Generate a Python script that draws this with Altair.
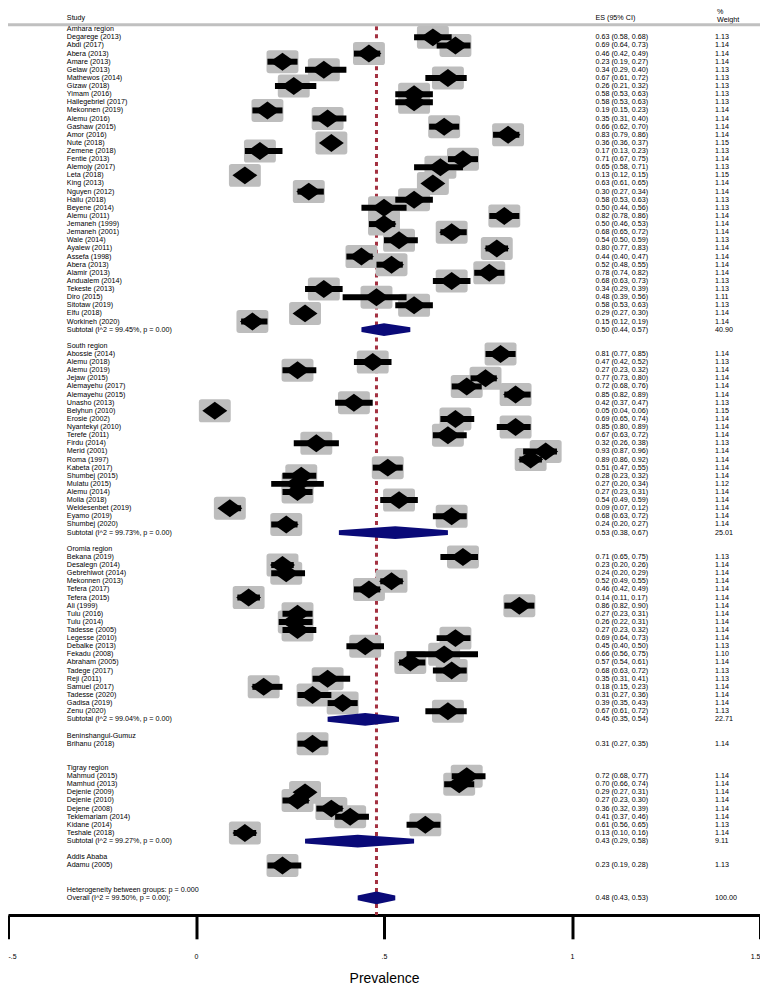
import altair as alt
import pandas as pd

# ---------------- data ----------------
AMHARA_NAMES = ["Degarege (2013)", "Abdi (2017)", "Abera (2013)", "Amare (2013)", "Gelaw (2013)",
                "Mathewos (2014)", "Gizaw (2018)", "Yimam (2016)", "Hailegebriel (2017)", "Mekonnen (2019)",
                "Alemu (2016)", "Gashaw (2015)", "Amor (2016)", "Nute (2018)", "Zemene (2018)",
                "Fentie (2013)", "Alemojy (2017)", "Leta (2018)", "King (2013)", "Nguyen (2012)",
                "Hailu (2018)", "Beyene (2014)", "Alemu (2011)", "Jemaneh (1999)", "Jemaneh (2001)",
                "Wale (2014)", "Ayalew (2011)", "Assefa (1998)", "Abera (2013)", "Alamir (2013)",
                "Andualem (2014)", "Tekeste (2013)", "Diro (2015)", "Sitotaw (2019)", "Elfu (2018)",
                "Workineh (2020)"]
AMHARA_ES = [0.63, 0.69, 0.46, 0.23, 0.34, 0.67, 0.26, 0.58, 0.58, 0.19, 0.35, 0.66, 0.83, 0.36, 0.17,
             0.71, 0.65, 0.13, 0.63, 0.30, 0.58, 0.50, 0.82, 0.50, 0.68, 0.54, 0.80, 0.44, 0.52, 0.78,
             0.68, 0.34, 0.48, 0.58, 0.29, 0.15]
AMHARA_LCI = [0.58, 0.64, 0.42, 0.19, 0.29, 0.61, 0.21, 0.53, 0.53, 0.15, 0.31, 0.62, 0.79, 0.36, 0.13,
              0.67, 0.58, 0.12, 0.61, 0.27, 0.53, 0.44, 0.78, 0.46, 0.65, 0.50, 0.77, 0.40, 0.48, 0.74,
              0.63, 0.29, 0.39, 0.53, 0.27, 0.12]
AMHARA_UCI = [0.68, 0.73, 0.49, 0.27, 0.40, 0.72, 0.32, 0.63, 0.63, 0.23, 0.40, 0.70, 0.86, 0.37, 0.23,
              0.75, 0.71, 0.15, 0.65, 0.34, 0.63, 0.56, 0.86, 0.53, 0.72, 0.59, 0.83, 0.47, 0.55, 0.82,
              0.73, 0.39, 0.56, 0.63, 0.30, 0.19]
AMHARA_W = [1.13, 1.14, 1.14, 1.14, 1.13, 1.13, 1.13, 1.13, 1.13, 1.14, 1.14, 1.14, 1.14, 1.15, 1.13,
            1.14, 1.13, 1.15, 1.14, 1.14, 1.13, 1.13, 1.14, 1.14, 1.14, 1.13, 1.14, 1.14, 1.14, 1.14,
            1.13, 1.13, 1.11, 1.13, 1.14, 1.14]

SOUTH_NAMES = ["Abossie (2014)", "Alemu (2018)", "Alemu (2019)", "Jejaw (2015)", "Alemayehu (2017)",
               "Alemayehu (2015)", "Unasho (2013)", "Belyhun (2010)", "Erosie (2002)", "Nyantekyi (2010)",
               "Terefe (2011)", "Firdu (2014)", "Merid (2001)", "Roma (1997)", "Kabeta (2017)",
               "Shumbej (2015)", "Mulatu (2015)", "Alemu (2014)", "Molla (2018)", "Weldesenbet (2019)",
               "Eyamo (2019)", "Shumbej (2020)"]
SOUTH_ES = [0.81, 0.47, 0.27, 0.77, 0.72, 0.85, 0.42, 0.05, 0.69, 0.85, 0.67, 0.32, 0.93, 0.89, 0.51,
            0.28, 0.27, 0.27, 0.54, 0.09, 0.68, 0.24]
SOUTH_LCI = [0.77, 0.42, 0.23, 0.73, 0.68, 0.82, 0.37, 0.04, 0.65, 0.80, 0.63, 0.26, 0.87, 0.86, 0.47,
             0.23, 0.20, 0.23, 0.49, 0.07, 0.63, 0.20]
SOUTH_UCI = [0.85, 0.52, 0.32, 0.80, 0.76, 0.89, 0.47, 0.06, 0.74, 0.89, 0.72, 0.38, 0.96, 0.92, 0.55,
             0.32, 0.34, 0.31, 0.59, 0.12, 0.72, 0.27]
SOUTH_W = [1.14, 1.13, 1.14, 1.14, 1.14, 1.14, 1.13, 1.15, 1.14, 1.14, 1.14, 1.13, 1.14, 1.14, 1.14,
           1.14, 1.12, 1.14, 1.14, 1.14, 1.14, 1.14]

OROMIA_NAMES = ["Bekana (2019)", "Desalegn (2014)", "Gebrehiwot (2014)", "Mekonnen (2013)", "Tefera (2017)",
                "Tefera (2015)", "Ali (1999)", "Tulu (2016)", "Tulu (2014)", "Tadesse (2005)",
                "Legesse (2010)", "Debalke (2013)", "Fekadu (2008)", "Abraham (2005)", "Tadege (2017)",
                "Reji (2011)", "Samuel (2017)", "Tadesse (2020)", "Gadisa (2019)", "Zenu (2020)"]
OROMIA_ES = [0.71, 0.23, 0.24, 0.52, 0.46, 0.14, 0.86, 0.27, 0.26, 0.27, 0.69, 0.45, 0.66, 0.57, 0.68,
             0.35, 0.18, 0.31, 0.39, 0.67]
OROMIA_LCI = [0.65, 0.20, 0.20, 0.49, 0.42, 0.11, 0.82, 0.23, 0.22, 0.23, 0.64, 0.40, 0.56, 0.54, 0.63,
              0.31, 0.15, 0.27, 0.35, 0.61]
OROMIA_UCI = [0.75, 0.26, 0.29, 0.55, 0.49, 0.17, 0.90, 0.31, 0.31, 0.32, 0.73, 0.50, 0.75, 0.61, 0.72,
              0.41, 0.23, 0.36, 0.43, 0.72]
OROMIA_W = [1.13, 1.14, 1.14, 1.14, 1.14, 1.14, 1.14, 1.14, 1.14, 1.14, 1.14, 1.13, 1.10, 1.14, 1.13,
            1.13, 1.14, 1.14, 1.14, 1.13]

BEN_NAMES = ["Brihanu (2018)"]
BEN_ES = [0.31]
BEN_LCI = [0.27]
BEN_UCI = [0.35]
BEN_W = [1.14]

TIGRAY_NAMES = ["Mahmud (2015)", "Mamhud (2013)", "Dejenie (2009)", "Dejenie (2010)", "Dejene (2008)",
                "Teklemariam (2014)", "Kidane (2014)", "Teshale (2018)"]
TIGRAY_ES = [0.72, 0.70, 0.29, 0.27, 0.36, 0.41, 0.61, 0.13]
TIGRAY_LCI = [0.68, 0.66, 0.27, 0.23, 0.32, 0.37, 0.56, 0.10]
TIGRAY_UCI = [0.77, 0.74, 0.31, 0.30, 0.39, 0.46, 0.65, 0.16]
TIGRAY_W = [1.14, 1.14, 1.14, 1.14, 1.14, 1.14, 1.13, 1.14]

ADDIS_NAMES = ["Adamu (2005)"]
ADDIS_ES = [0.23]
ADDIS_LCI = [0.19]
ADDIS_UCI = [0.28]
ADDIS_W = [1.13]

GROUP_HEADERS = ["Amhara region", "South region", "Oromia region", "Beninshangul-Gumuz",
                 "Tigray region", "Addis Ababa"]
# subtotal: es, lci, uci, weight, I^2 (None when the group has a single study)
SUB_ES = [0.50, 0.53, 0.45, None, 0.43, None]
SUB_LCI = [0.44, 0.38, 0.35, None, 0.29, None]
SUB_UCI = [0.57, 0.67, 0.54, None, 0.58, None]
SUB_W = [40.90, 25.01, 22.71, None, 9.11, None]
SUB_I2 = ["99.45%", "99.73%", "99.04%", None, "99.27%", None]

OVERALL = dict(es=0.48, lci=0.43, uci=0.53, w=100.00, i2="99.50%")
HET_TEXT = "Heterogeneity between groups: p = 0.000"

TICK_VALUES = [-0.5, 0, 0.5, 1, 1.5]
TICK_LABELS = ["-.5", "0", ".5", "1", "1.5"]

GROUPS = [
    (AMHARA_NAMES, AMHARA_ES, AMHARA_LCI, AMHARA_UCI, AMHARA_W),
    (SOUTH_NAMES, SOUTH_ES, SOUTH_LCI, SOUTH_UCI, SOUTH_W),
    (OROMIA_NAMES, OROMIA_ES, OROMIA_LCI, OROMIA_UCI, OROMIA_W),
    (BEN_NAMES, BEN_ES, BEN_LCI, BEN_UCI, BEN_W),
    (TIGRAY_NAMES, TIGRAY_ES, TIGRAY_LCI, TIGRAY_UCI, TIGRAY_W),
    (ADDIS_NAMES, ADDIS_ES, ADDIS_LCI, ADDIS_UCI, ADDIS_W),
]

# ---------------- tables ----------------
studies, labels, subs = [], [], []
r = 0
for gi, (names, es, lci, uci, w) in enumerate(GROUPS):
    labels.append(dict(row=r, text=GROUP_HEADERS[gi], est="", wt=""))
    for k in range(len(names)):
        rr = r + 1 + k
        studies.append(dict(row=rr, es=es[k], lci=lci[k], uci=uci[k]))
        labels.append(dict(row=rr, text=names[k],
                           est=f"{es[k]:.2f} ({lci[k]:.2f}, {uci[k]:.2f})", wt=f"{w[k]:.2f}"))
    srow = r + len(names) + 1
    if SUB_ES[gi] is not None:
        subs.append(dict(grp=f"g{gi}", row=srow, es=SUB_ES[gi], lci=SUB_LCI[gi], uci=SUB_UCI[gi]))
        labels.append(dict(row=srow, text=f"Subtotal  (I^2 = {SUB_I2[gi]}, p = 0.00)",
                           est=f"{SUB_ES[gi]:.2f} ({SUB_LCI[gi]:.2f}, {SUB_UCI[gi]:.2f})",
                           wt=f"{SUB_W[gi]:.2f}"))
    r = srow + 2
labels.append(dict(row=r, text=HET_TEXT, est="", wt=""))
orow = r + 1
subs.append(dict(grp="overall", row=orow, es=OVERALL["es"], lci=OVERALL["lci"], uci=OVERALL["uci"]))
labels.append(dict(row=orow, text=f"Overall  (I^2 = {OVERALL['i2']}, p = 0.00);",
                   est=f"{OVERALL['es']:.2f} ({OVERALL['lci']:.2f}, {OVERALL['uci']:.2f})",
                   wt=f"{OVERALL['w']:.2f}"))

study_df = pd.DataFrame(studies)
label_df = pd.DataFrame(labels)
diam_rows = []
for s in subs:
    diam_rows.append(dict(grp=s["grp"], x=s["lci"], ylo=s["row"] - 0.3, yhi=s["row"] + 0.3))
    diam_rows.append(dict(grp=s["grp"], x=s["es"], ylo=s["row"] - 0.78, yhi=s["row"] + 0.78))
    diam_rows.append(dict(grp=s["grp"], x=s["uci"], ylo=s["row"] - 0.3, yhi=s["row"] + 0.3))
diam_df = pd.DataFrame(diam_rows)
overall_df = pd.DataFrame([dict(es=OVERALL["es"])])

# ---------------- styling ----------------
FONT = "Liberation Sans"
W, H = 754, 908
NROW = orow
STEP = 8.14
XS = alt.Scale(domain=[-0.5, 1.5], range=[0, W], nice=False, zero=False)
YS = alt.Scale(domain=[0, NROW], range=[20, 20 + STEP * NROW], nice=False, zero=False)

label_expr = " : ".join(
    f"datum.value == {v} ? '{l}'" for v, l in zip(TICK_VALUES, TICK_LABELS)) + " : datum.label"
X_AXIS = alt.Axis(values=TICK_VALUES, labelExpr=label_expr, title="Prevalence", grid=False,
                  domainColor="black", domainWidth=3, tickColor="black", tickWidth=3, tickSize=24,
                  labelFont=FONT, labelFontSize=7, labelColor="black", labelPadding=14,
                  titleFont=FONT, titleFontSize=14, titleFontWeight="normal", titleColor="black",
                  titlePadding=12)


def X(field):
    return alt.X(field, type="quantitative", scale=XS, axis=X_AXIS)


def Y(field):
    return alt.Y(field, type="quantitative", scale=YS, axis=None)


BOX = ("M-0.82,-0.72 L0.82,-0.72 Q1,-0.72 1,-0.54 L1,0.54 Q1,0.72 0.82,0.72 "
       "L-0.82,0.72 Q-1,0.72 -1,0.54 L-1,-0.54 Q-1,-0.72 -0.82,-0.72 Z")
DIAM = "M-1,0 L0,-0.72 L1,0 L0,0.72 Z"

dashed = alt.Chart(overall_df).mark_rule(color="#a33040", strokeWidth=3, strokeDash=[4, 4]).encode(
    x=X("es"), y=alt.value(17), y2=alt.value(H))

boxes = alt.Chart(study_df).mark_point(shape=BOX, filled=True, size=1024, color="#bdbdbd",
                                       opacity=1, strokeWidth=0).encode(x=X("es"), y=Y("row"))

ci = alt.Chart(study_df).mark_rule(color="black", strokeWidth=6).encode(
    x=X("lci"), x2="uci", y=Y("row"))

points = alt.Chart(study_df).mark_point(shape=DIAM, filled=True, size=625, color="black",
                                        opacity=1, strokeWidth=0).encode(x=X("es"), y=Y("row"))

sub_diam = alt.Chart(diam_df).mark_area(color="#0a0a78", opacity=1).encode(
    x=X("x"), y=Y("ylo"), y2="yhi", detail="grp:N")

txt_kw = dict(font=FONT, fontSize=7.2, color="black", align="left", baseline="middle")
names_txt = alt.Chart(label_df).mark_text(**txt_kw).encode(
    x=alt.value(59), y=Y("row"), text="text:N")
est_txt = alt.Chart(label_df).mark_text(**txt_kw).encode(
    x=alt.value(589), y=Y("row"), text="est:N")
wt_txt = alt.Chart(label_df).mark_text(**txt_kw).encode(
    x=alt.value(709), y=Y("row"), text="wt:N")

hdr_kw = dict(font=FONT, fontSize=7.2, color="black", align="left", baseline="alphabetic")
one = pd.DataFrame({"k": [0]})
h_study = alt.Chart(one).mark_text(**hdr_kw).encode(x=alt.value(59), y=alt.value(10.5),
                                                    text=alt.value("Study"))
h_es = alt.Chart(one).mark_text(**hdr_kw).encode(x=alt.value(589), y=alt.value(10.5),
                                                 text=alt.value("ES (95% CI)"))
h_pct = alt.Chart(one).mark_text(**hdr_kw).encode(x=alt.value(711), y=alt.value(4.6),
                                                  text=alt.value("%"))
h_w = alt.Chart(one).mark_text(**hdr_kw).encode(x=alt.value(711), y=alt.value(13),
                                                text=alt.value("Weight"))
gray_line = alt.Chart(one).mark_rule(color="#c0c0c0", strokeWidth=3).encode(
    x=alt.value(0), x2=alt.value(W), y=alt.value(15.5))

chart = alt.layer(
    dashed, boxes, ci, points, sub_diam, names_txt, est_txt, wt_txt,
    h_study, h_es, h_pct, h_w, gray_line
).properties(
    width=W, height=H, autosize="none",
    padding={"left": 0, "top": 0, "right": 0, "bottom": 69},
    background="white",
).configure_view(stroke=None)

chart.save("out.html", embed_options={"renderer": "svg", "actions": False})
